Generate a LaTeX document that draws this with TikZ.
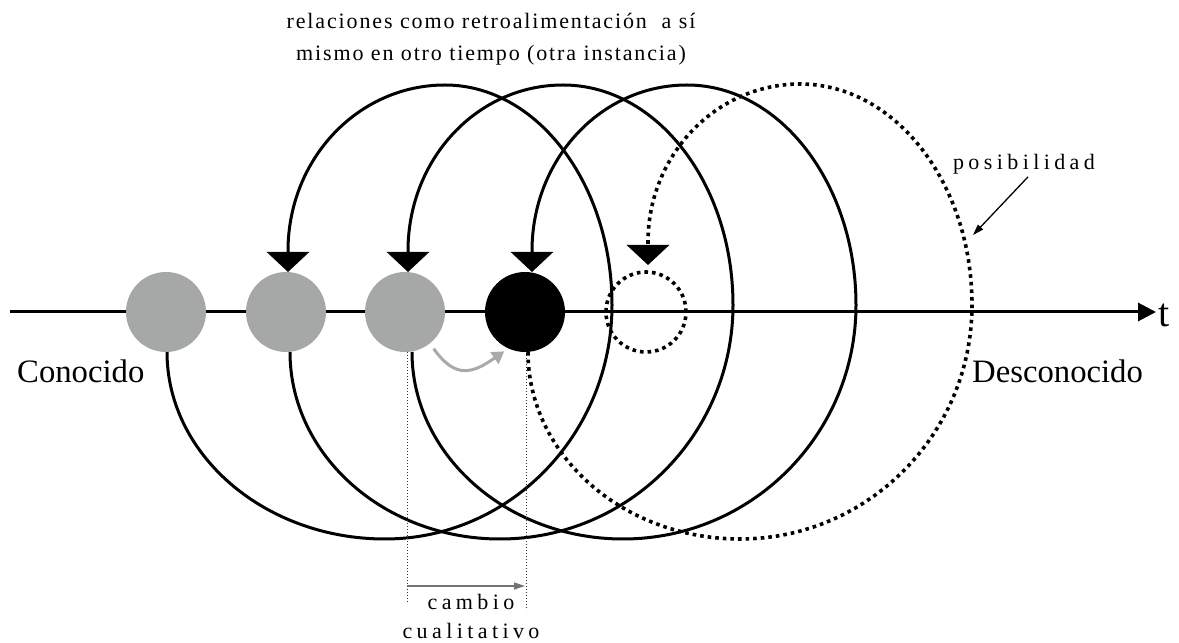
\documentclass[tikz,border=0pt]{standalone}
\usepackage{fontspec}
\setmainfont{Liberation Serif}
\newfontfamily\spacedA[LetterSpace=8.5]{Liberation Serif}
\newfontfamily\spacedB[LetterSpace=20]{Liberation Serif}
\usetikzlibrary{arrows.meta}
\definecolor{nodegray}{RGB}{166,168,167}
\definecolor{arrowgray}{RGB}{168,170,169}
\definecolor{midgray}{RGB}{115,115,115}
\begin{document}
\begin{tikzpicture}[x=1pt,y=1pt,
  loopline/.style={line width=3pt,-{Triangle[width=42pt,length=20pt]}},
  dotloop/.style={line width=3.6pt,dash pattern=on 3.6pt off 4pt,-{Triangle[width=42pt,length=20pt]}},
  gnode/.style={circle,fill=nodegray,minimum size=80pt,inner sep=0pt,outer sep=0pt},
  bnode/.style={circle,fill=black,minimum size=80pt,inner sep=0pt,outer sep=0pt},
  dnode/.style={circle,draw,line width=3.6pt,dash pattern=on 3.6pt off 4pt,minimum size=80pt,inner sep=0pt,outer sep=0pt},
  axisline/.style={line width=3pt,-{Triangle[width=18pt,length=18pt]}},
  thindot/.style={line width=0.9pt,black!80,dash pattern=on 0.9pt off 2.1pt},
  grayarr/.style={line width=3pt,arrowgray,-{Triangle[width=14pt,length=12pt]}},
  midarr/.style={line width=1.3pt,midgray,-{Triangle[width=7pt,length=11pt]}},
  thinarr/.style={line width=1.3pt,-{Triangle[width=7pt,length=11pt]}},
  bigtext/.style={inner sep=0pt,font=\fontsize{32.7}{36}\selectfont},
  spacedtext/.style={inner sep=0pt,font=\fontsize{22}{24}\spacedA},
  widetext/.style={inner sep=0pt,font=\fontsize{22}{24}\spacedB}
]
\useasboundingbox (0,0) rectangle (1179,643);

\path (166,331) coordinate (c1) (286,331) coordinate (c2) (405,331) coordinate (c3)
      (525,331) coordinate (c4) (646,331) coordinate (c5);

% anchors for the loops (same geometry as the visible nodes)
\node[gnode,fill=none] (n1) at (c1) {};
\node[gnode,fill=none] (n2) at (c2) {};
\node[gnode,fill=none] (n3) at (c3) {};
\node[gnode,fill=none] (n4) at (c4) {};
\node[dnode] (n5) at (c5) {};

% feedback loops
\draw[loopline] ([xshift=1pt]n1.south)
  .. controls +(0,-103) and +(-120,0) .. (385,104)
  .. controls +(125,0) and +(0,-129) .. (612,338)
  .. controls +(0,121) and +(92,0) .. (445,558)
  .. controls +(-87,0) and +(0,92) .. (288,392)
  -- ([xshift=2pt]n2.north);
\draw[loopline] ([xshift=4pt]n2.south)
  .. controls +(0,-103) and +(-116,0) .. (500,104)
  .. controls +(129,0) and +(0,-129) .. (733,338)
  .. controls +(0,121) and +(94,0) .. (563,558)
  .. controls +(-86,0) and +(0,92) .. (408,392)
  -- ([xshift=3pt]n3.north);
\draw[loopline] ([xshift=7pt]n3.south)
  .. controls +(0,-103) and +(-116,0) .. (623,104)
  .. controls +(129,0) and +(0,-129) .. (856,338)
  .. controls +(0,121) and +(93,0) .. (687,558)
  .. controls +(-86,0) and +(0,92) .. (532,392)
  -- ([xshift=7pt]n4.north);
\draw[dotloop] ([xshift=3pt]n4.south)
  .. controls +(0,-103) and +(-117,0) .. (740,104)
  .. controls +(128,0) and +(0,-129) .. (972,338)
  .. controls +(0,122) and +(95,0) .. (800,559)
  .. controls +(-84,0) and +(0,87) .. (648,401)
  -- ([xshift=2pt,yshift=7pt]n5.north);

% time axis
\coordinate (axL) at (10,331);
\coordinate (axR) at (1156,331);
\draw[axisline] (axL) -- (axR);

% nodes on top
\node[gnode] (m1) at (c1) {};
\node[gnode] (m2) at (c2) {};
\node[gnode] (m3) at (c3) {};
\node[bnode] (m4) at (c4) {};

% qualitative change
\draw[grayarr] ([shift={(3pt,-6pt)}]m3.-50) .. controls +(-55:38) and +(-145:38) .. ([shift={(-2pt,-4pt)}]m4.-118);
\coordinate (d3) at (407,40);
\coordinate (d4) at (526,33);
\draw[thindot] ([xshift=2pt]m3.south) -- (d3);
\draw[thindot] ([xshift=1pt]m4.south) -- (d4);
\coordinate (g1) at (407,57);
\coordinate (g2) at (525,57);
\draw[midarr] (g1) -- (g2);
\node[widetext,anchor=base] (cambio) at (471,33) {cambio};
\node[widetext,anchor=base] (cuali) at (471,5) {cualitativo};

% texts
\node[spacedtext,anchor=base] (title1) at (491,614) {relaciones como retroalimentación\ \ a sí};
\node[spacedtext,anchor=base] (title2) at (491,582) {mismo en otro tiempo (otra instancia)};
\node[bigtext,anchor=base west] (con) at (17,260) {Conocido};
\node[bigtext,anchor=base west] (des) at (972,260) {Desconocido};
\node[inner sep=0pt,anchor=base west,font=\fontsize{40}{44}\selectfont] (tlab) at (1158,316) {t};
\node[widetext,anchor=base] (posib) at (1024,473) {posibilidad};
\coordinate (ptgt) at (973,408);
\draw[thinarr] ([shift={(4pt,-2pt)}]posib.south) -- (ptgt);
\end{tikzpicture}
\end{document}
